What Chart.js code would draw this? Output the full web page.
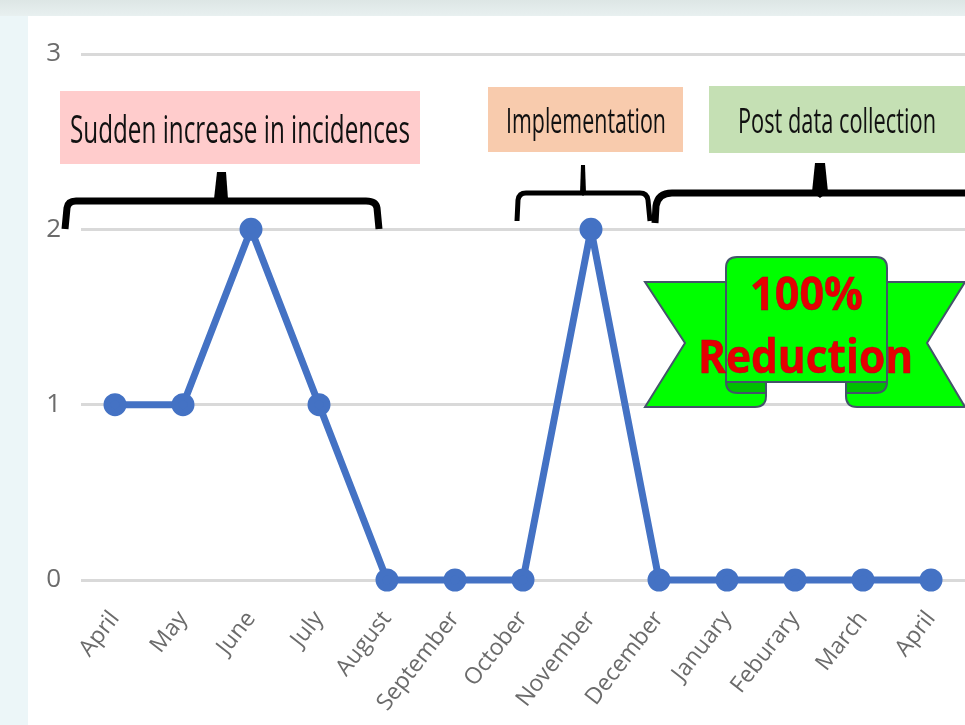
<!DOCTYPE html>
<html>
<head>
<meta charset="utf-8">
<script src="https://cdn.jsdelivr.net/npm/chart.js@4"></script>
<style>
html, body { margin: 0; padding: 0; }
body { width: 965px; height: 725px; overflow: hidden; position: relative; background: #ecf6f8; }
#faixaTopo { position: absolute; left: 0; top: 0; width: 965px; height: 16px; background: linear-gradient(#dde6e5, #e8f0f0); }
#fundo { position: absolute; left: 28px; top: 16px; width: 937px; height: 709px; background: #fff; }
#grafico { position: absolute; left: 0; top: 0; }
#notas { position: absolute; left: 0; top: 0; }
#notas text { font-family: "Open Sans", sans-serif; }
</style>
</head>
<body>
<div id="faixaTopo"></div>
<div id="fundo"></div>
<canvas id="grafico" width="965" height="725"></canvas>

<svg id="notas" width="965" height="725">
  <!-- caixas -->
  <rect x="60" y="91" width="360" height="73" fill="#ffcccc"/>
  <rect x="488" y="87" width="195" height="65" fill="#f8cbad"/>
  <rect x="709" y="86" width="256" height="67" fill="#c5e0b4"/>
  <text x="70" y="143" font-size="38" fill="#111" textLength="340" lengthAdjust="spacingAndGlyphs">Sudden increase in incidences</text>
  <text x="506" y="133" font-size="34" fill="#111" textLength="160" lengthAdjust="spacingAndGlyphs">Implementation</text>
  <text x="738" y="133" font-size="34" fill="#111" textLength="198" lengthAdjust="spacingAndGlyphs">Post data collection</text>

  <!-- chaves -->
  <path d="M65 229 L67 208 Q68 201 76 201 L366 201 Q376 201 377 208 L379 229" fill="none" stroke="#000" stroke-width="7"/>
  <path d="M217 172 L226 172 L228 199 L221 204 L214 199 Z" fill="#000"/>
  <path d="M517 221 L518 200 Q519 193 526 193 L640 193 Q647 193 648 200 L650 221" fill="none" stroke="#000" stroke-width="5"/>
  <path d="M581 165 L585 165 L586 193 L583 196 L580 193 Z" fill="#000"/>
  <path d="M655 223 L656 206 Q658 193 672 193 L970 193" fill="none" stroke="#000" stroke-width="7"/>
  <path d="M815 163 L825 163 L828 192 L820 198 L812 192 Z" fill="#000"/>

  <!-- faixa verde -->
  <path d="M645 282 L726 282 L726 382 L766 382 L766 396 Q766 407 755 407 L645 407 L685 343 Z" fill="#00ff00" stroke="#44546a" stroke-width="2"/>
  <path d="M965 282 L887 282 L887 382 L846 382 L846 396 Q846 407 857 407 L965 407 L927 343 Z" fill="#00ff00" stroke="#44546a" stroke-width="2"/>
  <path d="M726 382 Q726 393 738 393 L766 393 L766 382 Z" fill="#00c000" stroke="#44546a" stroke-width="2"/>
  <path d="M887 382 Q887 393 875 393 L846 393 L846 382 Z" fill="#00c000" stroke="#44546a" stroke-width="2"/>
  <path d="M726 382 L726 268 Q726 257 737 257 L876 257 Q887 257 887 268 L887 382 Z" fill="#00ff00" stroke="#44546a" stroke-width="2"/>
  <text x="750" y="310" font-size="46" font-weight="bold" fill="#e60000" stroke="#a8002a" stroke-width="0.5" textLength="113" lengthAdjust="spacingAndGlyphs">100%</text>
  <text x="698" y="373" font-size="46" font-weight="bold" fill="#e60000" stroke="#a8002a" stroke-width="0.5" textLength="215" lengthAdjust="spacingAndGlyphs">Reduction</text>
</svg>

<script>
let meses = ["April", "May", "June", "July", "August", "September", "October", "November", "December", "January", "Feburary", "March", "April"];
let incidencias = [1, 1, 2, 1, 0, 0, 0, 2, 0, 0, 0, 0, 0];
let marcasY = [0, 1, 2, 3];

let ctx = document.getElementById("grafico").getContext("2d");

let grafico = new Chart(ctx, {
    type: "line",
    data: {
        labels: meses,
        datasets: [{
            data: incidencias,
            borderColor: "#4472c4",
            backgroundColor: "#4472c4",
            borderWidth: 7,
            borderJoinStyle: "round",
            pointRadius: 8,
            pointHoverRadius: 8,
            tension: 0,
            clip: false
        }]
    },
    options: {
        responsive: false,
        animation: false,
        layout: { autoPadding: false, padding: { top: 54, left: 0, right: 0, bottom: 0 } },
        plugins: { legend: { display: false }, title: { display: false }, tooltip: { enabled: false } },
        scales: {
            x: {
                offset: true,
                grid: { display: false },
                border: { display: false },
                afterFit: function(eixo){
                    eixo.height = 145;
                    eixo.paddingLeft = 0;
                    eixo.paddingRight = 0;
                },
                ticks: {
                    color: "#6b6b6b",
                    font: { family: "Open Sans", size: 23 },
                    minRotation: 52,
                    maxRotation: 52,
                    autoSkip: false,
                    padding: 18
                }
            },
            y: {
                min: 0,
                max: 3,
                grid: { color: "#d9d9d9", lineWidth: 3, drawTicks: false },
                border: { display: false },
                afterFit: function(eixo){ eixo.width = 81; },
                afterBuildTicks: function(eixo){ eixo.ticks = marcasY.map(function(v){ return { value: v }; }); },
                ticks: {
                    color: "#6b6b6b",
                    font: { family: "Open Sans", size: 26 },
                    padding: 20
                }
            }
        }
    }
});
</script>
</body>
</html>
